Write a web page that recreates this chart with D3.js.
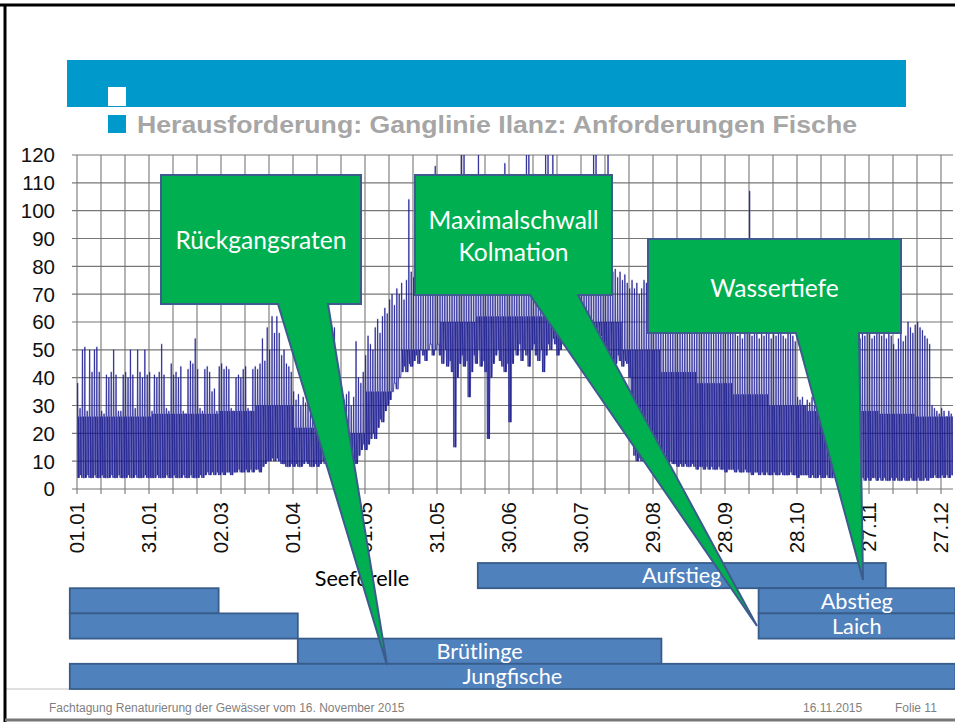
<!DOCTYPE html>
<html><head><meta charset="utf-8">
<script src="https://cdn.jsdelivr.net/npm/d3@7/dist/d3.min.js"></script>
<style>body{margin:0;background:#fff}svg{display:block}</style>
</head><body>
<svg id="c" width="955" height="722"></svg>
<script>
// ---------- DATA ----------
// daily maximum discharge (m3/s), one value per day, 1 Jan .. 31 Dec
const qMaxJan=[38,29,50,51,28,50,42,50,51,42,28,27,41,40,42,50,41,28,28,41,42,40,50,41,29,50,42,40,50,41,42];
const qMaxFeb=[28,41,40,42,52,41,29,28,45,41,42,40,44,28,27,43,46,45,54,43,29,28,43,44,42,35,36,28];
const qMaxMar=[44,45,43,44,43,29,28,40,41,40,43,44,29,28,43,44,43,45,54,46,58,50,62,56,62,56,48,50,45,44,42];
const qMaxApr=[35,32,34,30,33,31,35,28,34,30,32,33,35,30,32,40,55,58,45,38,36,32,34,35,30,33,53,40,38,42];
const qMaxMay=[48,55,52,50,58,61,56,62,65,63,68,70,66,72,70,74,68,75,104,78,76,80,82,78,85,88,84,90,95,116,92];
const qMaxJun=[95,98,100,96,102,105,98,100,110,125,125,108,104,110,106,112,125,105,100,98,104,96,100,110,102,98,95,117,100,96];
const qMaxJul=[104,100,98,106,102,110,125,125,104,100,96,98,102,100,125,125,104,125,100,98,102,96,95,100,98,96,92,95,90,94,96];
const qMaxAug=[98,96,100,125,125,104,96,94,92,125,90,78,79,76,78,75,77,74,72,75,72,74,70,72,75,74,70,68,72,70,68];
const qMaxSep=[66,64,62,65,60,58,62,60,63,59,61,58,60,62,57,59,61,60,58,62,59,57,60,58,61,59,56,58,60,57];
const qMaxOct=[56,58,55,57,54,56,58,107,55,57,56,54,58,55,57,56,54,57,55,56,58,55,54,56,57,55,53,33,32,33,30];
const qMaxNov=[32,31,33,30,32,34,31,33,32,35,40,45,50,52,55,54,56,55,53,56,57,55,54,56,55,57,56,54,55,57];
const qMaxDec=[56,55,57,54,56,55,52,50,54,56,53,55,60,58,56,59,60,58,57,55,54,52,30,29,28,27,29,28,26,28,27];
// daily minimum discharge
const qMinJan=[4,5,4,4,5,4,4,5,4,4,5,4,4,4,5,4,4,5,4,4,4,5,4,4,5,4,4,4,5,4,4];
const qMinFeb=[4,4,5,4,4,4,5,4,4,5,4,4,4,5,4,4,5,4,4,4,5,4,5,6,5,6,5,6];
const qMinMar=[5,6,5,6,6,5,6,6,7,6,6,7,6,7,6,7,7,6,8,9,10,10,11,10,11,10,9,9,8,8,9];
const qMinApr=[8,9,8,8,9,10,9,8,8,9,8,9,10,9,8,9,8,9,10,9,8,9,10,11,12,10,9,12,14,16];
const qMinMay=[14,16,18,20,18,22,25,24,28,30,32,35,38,36,40,42,44,42,45,44,46,48,45,50,48,46,50,52,48,50,52];
const qMinJun=[48,45,50,44,46,42,15,40,45,48,44,46,33,42,48,45,50,44,46,42,18,40,45,48,50,46,44,42,45,24];
const qMinJul=[45,50,48,52,46,50,48,44,50,52,48,46,50,42,48,52,50,54,52,48,50,55,52,50,54,56,52,55,58,54,56];
const qMinAug=[58,56,55,58,54,56,55,52,50,48,47,46,45,48,46,44,46,45,40,20,12,10,11,10,12,11,10,12,11,10,11];
const qMinSep=[10,11,10,9,10,9,9,8,9,8,9,8,8,9,8,7,8,8,7,8,7,8,7,7,8,7,7,6,7,7];
const qMinOct=[7,6,7,6,6,7,6,6,5,6,6,5,6,5,6,5,5,6,5,5,6,5,5,5,6,5,5,4,5,5,5];
const qMinNov=[5,4,5,4,4,5,4,4,5,4,4,4,5,4,4,3,4,4,3,4,4,3,4,4,3,4,3,4,4,3];
const qMinDec=[4,3,4,3,3,4,3,4,3,3,4,3,3,4,3,3,4,3,3,4,3,4,4,5,4,4,5,4,5,4,5];
// typical daytime plateau level per half month (dense band), [1st-15th, 16th-end]
const plateauHalfMonth=[[26,26],[27,27],[28,30],[22,20],[35,50],[60,62],[62,62],[60,50],[42,38],[34,30],[28,28],[27,26]];
const monthLengths=[31,28,31,30,31,30,31,31,30,31,30,31];

const yTickValues=[0,10,20,30,40,50,60,70,80,90,100,110,120];
const xTickDays=[0,30,60,90,120,150,180,210,240,270,300,330,360];
const xTickLabels=["01.01","31.01","02.03","01.04","01.05","31.05","30.06","30.07","29.08","28.09","28.10","27.11","27.12"];

// fish life-stage periods (day of year)
const barLabels=["Aufstieg","","Abstieg","","Laich","Brütlinge","Jungfische"];
const barStart=[167,-3,284,-3,284,92,-3];
const barEnd=[337,59,366,92,366,243.5,366];
const barRow=[0,1,1,2,2,3,4];

// ---------- BUILD ----------
const qMax=[].concat(qMaxJan,qMaxFeb,qMaxMar,qMaxApr,qMaxMay,qMaxJun,qMaxJul,qMaxAug,qMaxSep,qMaxOct,qMaxNov,qMaxDec);
const qMin=[].concat(qMinJan,qMinFeb,qMinMar,qMinApr,qMinMay,qMinJun,qMinJul,qMinAug,qMinSep,qMinOct,qMinNov,qMinDec);
const plateau=[];
monthLengths.forEach((n,i)=>{for(let k=0;k<n;k++)plateau.push(plateauHalfMonth[i][k<15?0:1]);});

const svg=d3.select("#c");
const W=955,H=722;
const x=d3.scaleLinear().domain([0,365]).range([77,953]);
const y=d3.scaleLinear().domain([0,120]).range([489,155]);
const row=d3.scaleBand().domain([0,1,2,3,4]).range([563,689]).padding(0);

svg.append("rect").attr("width",W).attr("height",H).attr("fill","#fff");

// header banner
svg.append("rect").attr("x",67).attr("y",60).attr("width",839).attr("height",47).attr("fill","#0099cc");
svg.append("rect").attr("x",108).attr("y",87).attr("width",18).attr("height",19).attr("fill","#fff");
svg.append("rect").attr("x",108).attr("y",115).attr("width",18).attr("height",18).attr("fill","#0099cc");
svg.append("text").attr("x",137).attr("y",133)
  .attr("font-family","'Liberation Sans',Arial,sans-serif").attr("font-weight","bold")
  .attr("font-size",24).attr("fill","#a6a6a6")
  .attr("textLength",720).attr("lengthAdjust","spacingAndGlyphs")
  .text("Herausforderung: Ganglinie Ilanz: Anforderungen Fische");

// grid
const grid=svg.append("g").attr("stroke","#777").attr("stroke-width",1.1);
grid.selectAll("line.h").data(yTickValues).join("line")
  .attr("x1",72).attr("x2",953).attr("y1",d=>y(d)).attr("y2",d=>y(d));
grid.selectAll("line.v").data(d3.range(0,361,10)).join("line")
  .attr("x1",d=>x(d)).attr("x2",d=>x(d)).attr("y1",y(120)).attr("y2",y(0)+5);

// hydrograph
svg.append("clipPath").attr("id","plotclip").append("rect")
  .attr("x",x(0)).attr("y",y(120)).attr("width",x(365)-x(0)).attr("height",y(0)-y(120));
const pts=[];
qMax.forEach((mx,d)=>{
  const mn=qMin[d];
  const mid=Math.max(mn,Math.min(mx,plateau[d]));
  pts.push([d,mn],[d+0.14,mid],[d+0.24,mx],[d+0.3,mx],[d+0.38,mid],[d+0.42,mid],
           [d+0.54,mn],[d+0.66,mid],[d+0.7,mid],[d+0.84,mn]);
});
pts.push([365,qMin[364]]);
const hydro=d3.line().x(p=>x(p[0])).y(p=>y(p[1]))(pts);
svg.append("path").attr("clip-path","url(#plotclip)").attr("d",hydro)
  .attr("fill","none").attr("stroke","#8080c8").attr("stroke-width",1.8).attr("stroke-opacity",0.25);
svg.append("path").attr("clip-path","url(#plotclip)").attr("d",hydro)
  .attr("fill","none").attr("stroke","#10108a").attr("stroke-width",0.75)
  .attr("stroke-opacity",0.85).attr("stroke-linejoin","miter");

// axis labels
const axFont="'Liberation Sans',Arial,sans-serif";
svg.append("g").selectAll("text").data(yTickValues).join("text")
  .attr("x",55).attr("y",d=>y(d)).attr("dy","0.36em").attr("text-anchor","end")
  .attr("font-family",axFont).attr("font-size",20.5).attr("fill","#111").text(d=>d);
svg.append("g").selectAll("text").data(xTickDays).join("text")
  .attr("transform",d=>`translate(${x(d)},502) rotate(-90)`).attr("dy","0.36em")
  .attr("text-anchor","end").attr("font-family",axFont).attr("font-size",20.5).attr("fill","#111")
  .text((d,i)=>xTickLabels[i]);

// footer separator
svg.append("line").attr("x1",5).attr("x2",W).attr("y1",689).attr("y2",689).attr("stroke","#c0c0c0").attr("stroke-width",1);

// bars
const lblFont="Lato,'Open Sans',sans-serif";
const bars=svg.append("g");
barLabels.forEach((lab,i)=>{
  bars.append("rect").attr("x",x(barStart[i])).attr("y",row(barRow[i]))
    .attr("width",x(barEnd[i])-x(barStart[i])).attr("height",row.bandwidth())
    .attr("fill","#4f81bd").attr("stroke","#385d8a").attr("stroke-width",1.8);
});
const barTexts=[];
barLabels.forEach((lab,i)=>{
  if(!lab)return;
  const t=bars.append("text").attr("x",(x(barStart[i])+x(Math.min(barEnd[i],365.8)))/2)
    .attr("y",row(barRow[i])+row.bandwidth()/2).attr("dy","0.36em").attr("text-anchor","middle")
    .attr("font-family",lblFont).attr("font-size",22).attr("fill","#fff").text(lab);
  barTexts.push(t);
});
const jt=barTexts[barTexts.length-1];
const barFs=22*100/jt.node().getComputedTextLength();
barTexts.forEach(t=>t.attr("font-size",barFs));

svg.append("text").attr("x",362).attr("y",578).attr("dy","0.36em").attr("text-anchor","middle")
  .attr("font-family",lblFont).attr("font-size",barFs).attr("fill","#000").text("Seeforelle");

// callouts (layout in pixels)
const callouts=[
  {box:[161,175,361,304], base:[278,328], tip:[387,665], lines:["Rückgangsraten"], ty:[240]},
  {box:[415,175,612,295], base:[530,578], tip:[757,626], lines:["Maximalschwall","Kolmation"], ty:[220,252]},
  {box:[648,239,901,333], base:[796,859], tip:[863,580], lines:["Wassertiefe"], ty:[288]}
];
const cg=svg.append("g");
const ctexts=[];
callouts.forEach(c=>{
  const [x0,y0,x1,y1]=c.box;
  const p=[[x0,y0],[x1,y0],[x1,y1],[c.base[1],y1],c.tip,[c.base[0],y1],[x0,y1]];
  cg.append("path").attr("d","M"+p.map(q=>q.join(",")).join("L")+"Z")
    .attr("fill","#00b050").attr("stroke","#3b5c8c").attr("stroke-width",2).attr("stroke-linejoin","miter");
  c.lines.forEach((l,j)=>{
    ctexts.push(cg.append("text").attr("x",(x0+x1)/2).attr("y",c.ty[j]).attr("dy","0.36em")
      .attr("text-anchor","middle").attr("font-family",lblFont).attr("font-size",24)
      .attr("fill","#fff").text(l));
  });
});
const mt=ctexts[1];
const cFs=24*170/mt.node().getComputedTextLength();
ctexts.forEach(t=>t.attr("font-size",cFs));

// footer
const ff="'Liberation Sans',Arial,sans-serif";
svg.append("text").attr("x",49).attr("y",712).attr("font-family",ff).attr("font-size",12).attr("fill","#7f7f7f")
  .text("Fachtagung Renaturierung der Gewässer vom 16. November 2015");
svg.append("text").attr("x",803).attr("y",712).attr("font-family",ff).attr("font-size",12).attr("fill","#7f7f7f").text("16.11.2015");
svg.append("text").attr("x",895).attr("y",712).attr("font-family",ff).attr("font-size",12).attr("fill","#7f7f7f").text("Folie 11");

// slide border
svg.append("line").attr("x1",0).attr("x2",W).attr("y1",5).attr("y2",5).attr("stroke","#000").attr("stroke-width",3);
svg.append("line").attr("x1",5).attr("x2",5).attr("y1",4).attr("y2",H).attr("stroke","#000").attr("stroke-width",3);
svg.append("line").attr("x1",5).attr("x2",W).attr("y1",720).attr("y2",720).attr("stroke","#777").attr("stroke-width",3);
</script>
</body></html>
